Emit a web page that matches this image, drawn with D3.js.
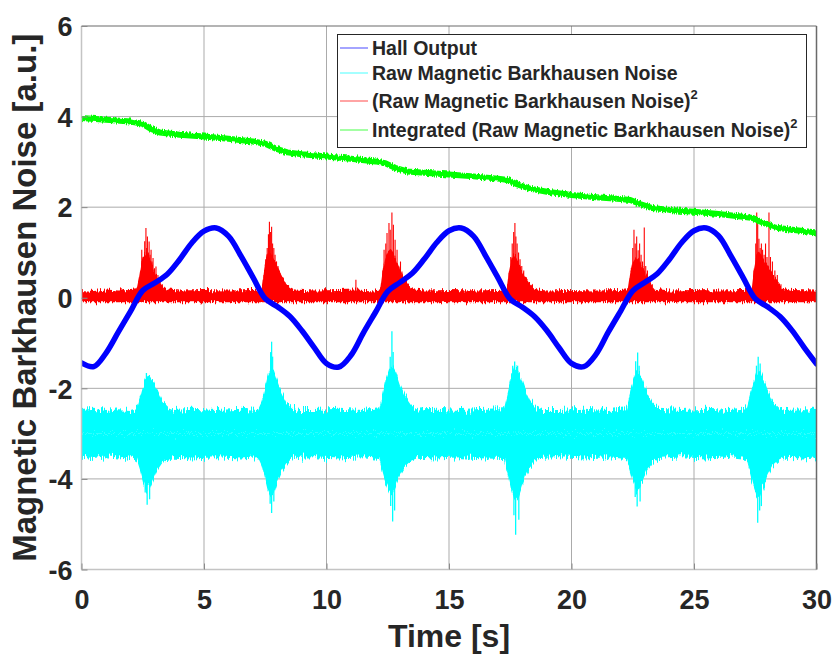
<!DOCTYPE html>
<html>
<head>
<meta charset="utf-8">
<script src="https://cdn.jsdelivr.net/npm/d3@7"></script>
<style>
  body { margin: 0; background: #fff; }
  text { font-family: "Liberation Sans", Arial, sans-serif; font-weight: bold; fill: #262626; }
</style>
</head>
<body>
<div id="chart"></div>
<script>
(function(d3) {
  'use strict';

  // ---- data ----
  var xTicks = [0, 5, 10, 15, 20, 25, 30];
  var yTicks = [-6, -4, -2, 0, 2, 4, 6];

  var seriesNames = ['Hall Output', 'Raw Magnetic Barkhausen Noise',
    '(Raw Magnetic Barkhausen Noise)', 'Integrated (Raw Magnetic Barkhausen Noise)'];
  var seriesColors = ['#0000ff', '#00ffff', '#ff0000', '#00ff00'];

  // Hall output, one value every 0.5 s from 0 to 30 s
  var hallStep = 0.5;
  var hall = [
    -1.44, -1.52, -1.22, -0.76, -0.30, 0.16, 0.33, 0.52, 0.84, 1.21,
     1.47,  1.54,  1.36,  0.93,  0.45, -0.02, -0.20, -0.41, -0.73, -1.10,
    -1.45, -1.53, -1.27, -0.78, -0.32, 0.14, 0.34, 0.54, 0.86, 1.22,
     1.48,  1.54,  1.36,  0.92,  0.44, -0.03, -0.21, -0.42, -0.73, -1.11,
    -1.45, -1.52, -1.25, -0.76, -0.30, 0.15, 0.34, 0.53, 0.85, 1.22,
     1.48,  1.54,  1.37,  0.93,  0.45, -0.02, -0.20, -0.41, -0.72, -1.10,
    -1.46
  ];

  // integrated squared noise (green), breakpoints
  var greenT = [0, 1, 2, 2.5, 2.8, 3.2, 4, 5, 6, 7, 7.5, 7.9, 8.4, 9, 10, 11, 12,
    12.4, 12.8, 13.3, 14, 15, 16, 17, 17.4, 17.8, 18.3, 19, 20, 21, 22,
    22.4, 22.8, 23.3, 24, 25, 26, 27, 27.4, 27.8, 28.3, 29, 30];
  var greenV = [3.97, 3.93, 3.89, 3.84, 3.74, 3.65, 3.60, 3.56, 3.51, 3.45, 3.40, 3.30, 3.21, 3.17, 3.12, 3.07, 3.01,
    2.97, 2.87, 2.79, 2.76, 2.72, 2.68, 2.63, 2.60, 2.50, 2.41, 2.34, 2.27, 2.22, 2.18,
    2.16, 2.07, 1.98, 1.94, 1.90, 1.85, 1.79, 1.76, 1.66, 1.55, 1.50, 1.44];

  // squared noise (red): dense band top edge, floor, tall spikes
  var redFloor = -0.1;
  var redTop = [
    [0, 0.17], [0.5, 0.15], [1, 0.18], [1.5, 0.16], [2, 0.17], [2.25, 0.19],
    [2.35, 0.45], [2.45, 0.8], [2.55, 0.95], [2.65, 1.0], [2.75, 0.92], [2.85, 0.8], [2.95, 0.62], [3.1, 0.45], [3.25, 0.32], [3.4, 0.23], [3.55, 0.18],
    [4, 0.16], [5, 0.17], [6, 0.16], [7, 0.17], [7.35, 0.19],
    [7.45, 0.6], [7.55, 0.95], [7.65, 1.05], [7.75, 0.98], [7.9, 0.82], [8.05, 0.62], [8.2, 0.46], [8.35, 0.33], [8.5, 0.24], [8.7, 0.18],
    [9.5, 0.16], [10.5, 0.17], [11.2, 0.18], [12, 0.16], [12.2, 0.19],
    [12.3, 0.6], [12.4, 0.9], [12.5, 1.02], [12.62, 1.08], [12.75, 0.98], [12.88, 0.8], [13.0, 0.62], [13.15, 0.45], [13.3, 0.32], [13.45, 0.22], [13.6, 0.18],
    [14, 0.16], [15, 0.17], [16, 0.16], [17, 0.17], [17.35, 0.19],
    [17.45, 0.6], [17.55, 0.88], [17.65, 0.95], [17.75, 0.88], [17.88, 0.72], [18.0, 0.58], [18.15, 0.43], [18.3, 0.3], [18.45, 0.21], [18.6, 0.18],
    [19, 0.16], [20, 0.17], [21, 0.16], [22, 0.17], [22.3, 0.19],
    [22.4, 0.55], [22.5, 0.8], [22.62, 0.9], [22.75, 0.82], [22.88, 0.68], [23.0, 0.55], [23.12, 0.42], [23.25, 0.3], [23.4, 0.2],
    [24, 0.16], [25, 0.17], [26, 0.16], [27, 0.17], [27.35, 0.19],
    [27.45, 0.65], [27.55, 0.95], [27.65, 1.02], [27.78, 0.92], [27.9, 0.8], [28.02, 0.7], [28.15, 0.58], [28.3, 0.44], [28.45, 0.32], [28.6, 0.22],
    [29, 0.17], [30, 0.16]
  ];
  var redSpikes = [
    [2.42, 0.6], [2.46, 1.06], [2.52, 0.9], [2.58, 1.25], [2.63, 1.54], [2.66, 1.1], [2.69, 1.35], [2.73, 1.0], [2.76, 1.24],
    [2.8, 0.95], [2.84, 1.06], [2.88, 0.8], [2.92, 0.88], [2.98, 0.65], [3.04, 0.69], [3.12, 0.5], [3.2, 0.4], [3.3, 0.3],
    [7.45, 0.5], [7.52, 0.85], [7.58, 1.1], [7.63, 1.4], [7.67, 1.68], [7.71, 1.45], [7.76, 1.57], [7.8, 1.2], [7.85, 1.1],
    [7.9, 0.95], [7.96, 0.8], [8.02, 0.7], [8.1, 0.55], [8.2, 0.45], [8.3, 0.35], [8.45, 0.28],
    [12.3, 0.6], [12.35, 1.06], [12.42, 1.2], [12.47, 1.43], [12.55, 1.65], [12.6, 1.5], [12.67, 1.88], [12.73, 1.61],
    [12.8, 1.28], [12.88, 1.06], [12.96, 0.69], [13.02, 0.8], [13.08, 0.58], [13.2, 0.4], [13.33, 0.25], [11.2, 0.4],
    [17.45, 0.55], [17.52, 0.9], [17.58, 1.2], [17.64, 1.45], [17.69, 1.65], [17.73, 1.35], [17.78, 1.2], [17.84, 1.0],
    [17.9, 0.85], [17.97, 0.7], [18.05, 0.6], [18.15, 0.45], [18.28, 0.35], [18.4, 0.25],
    [22.42, 0.5], [22.5, 1.1], [22.55, 1.5], [22.6, 1.2], [22.66, 1.35], [22.72, 1.05], [22.78, 1.2], [22.84, 0.95],
    [22.9, 0.8], [22.97, 1.55], [23.03, 0.7], [23.1, 0.6], [23.2, 0.45], [23.3, 0.3],
    [27.45, 0.6], [27.52, 1.2], [27.56, 1.88], [27.6, 1.65], [27.65, 1.3], [27.7, 1.1], [27.75, 1.2], [27.8, 1.06],
    [27.86, 0.95], [27.92, 1.2], [27.98, 0.9], [28.06, 1.88], [28.12, 0.9], [28.2, 0.8], [28.3, 0.6], [28.4, 0.5], [28.55, 0.3]
  ];

  // raw noise (cyan): band centre, top / bottom edges, tall hairs
  var cyanMid = -3.0;
  var cyanTop = [
    [0, -2.48], [0.5, -2.45], [1, -2.5], [1.5, -2.46], [2, -2.48], [2.25, -2.44],
    [2.4, -2.15], [2.52, -1.9], [2.65, -1.74], [2.8, -1.72], [2.95, -1.85], [3.1, -2.05], [3.3, -2.28], [3.55, -2.42], [3.8, -2.48],
    [4.5, -2.45], [5.5, -2.48], [6.5, -2.45], [7.2, -2.48], [7.35, -2.3],
    [7.48, -2.0], [7.6, -1.7], [7.72, -1.55], [7.85, -1.62], [8.0, -1.85], [8.15, -2.08], [8.35, -2.3], [8.6, -2.43], [8.9, -2.48],
    [9.5, -2.48], [10.5, -2.45], [11.5, -2.48], [12.15, -2.44],
    [12.3, -2.1], [12.42, -1.8], [12.55, -1.58], [12.7, -1.5], [12.85, -1.65], [13.0, -1.9], [13.2, -2.15], [13.45, -2.35], [13.75, -2.47],
    [14.5, -2.45], [15.5, -2.48], [16.5, -2.45], [17.25, -2.44],
    [17.4, -2.1], [17.52, -1.8], [17.65, -1.6], [17.8, -1.58], [17.95, -1.78], [18.1, -2.02], [18.3, -2.25], [18.55, -2.42], [18.8, -2.48],
    [19.5, -2.48], [20.5, -2.45], [21.5, -2.48], [22.25, -2.44],
    [22.4, -2.1], [22.52, -1.82], [22.65, -1.64], [22.8, -1.68], [22.95, -1.9], [23.1, -2.12], [23.3, -2.32], [23.55, -2.45],
    [24.5, -2.48], [25.5, -2.45], [26.5, -2.48], [27.15, -2.44],
    [27.3, -2.12], [27.42, -1.85], [27.55, -1.64], [27.7, -1.62], [27.85, -1.82], [28.0, -2.05], [28.2, -2.28], [28.45, -2.42], [28.7, -2.48],
    [29.5, -2.46], [30, -2.48]
  ];
  var cyanBottom = [
    [0, -3.53], [0.5, -3.56], [1, -3.52], [1.5, -3.55], [2, -3.52], [2.25, -3.56],
    [2.4, -3.82], [2.52, -4.08], [2.65, -4.24], [2.78, -4.2], [2.92, -4.02], [3.08, -3.82], [3.28, -3.66], [3.5, -3.58], [3.8, -3.53],
    [4.5, -3.55], [5.5, -3.52], [6.5, -3.55], [7.2, -3.52], [7.35, -3.7],
    [7.48, -3.98], [7.6, -4.25], [7.72, -4.38], [7.85, -4.3], [8.0, -4.05], [8.15, -3.85], [8.35, -3.68], [8.6, -3.57], [8.9, -3.53],
    [9.5, -3.52], [10.5, -3.55], [11.5, -3.52], [12.15, -3.56],
    [12.3, -3.88], [12.42, -4.12], [12.55, -4.28], [12.7, -4.3], [12.85, -4.12], [13.0, -3.92], [13.2, -3.72], [13.45, -3.6], [13.75, -3.53],
    [14.5, -3.55], [15.5, -3.52], [16.5, -3.55], [17.25, -3.56],
    [17.4, -3.9], [17.52, -4.2], [17.65, -4.45], [17.8, -4.5], [17.95, -4.25], [18.1, -3.98], [18.3, -3.75], [18.55, -3.6], [18.8, -3.53],
    [19.5, -3.52], [20.5, -3.55], [21.5, -3.52], [22.25, -3.56],
    [22.4, -3.85], [22.52, -4.08], [22.65, -4.24], [22.8, -4.18], [22.95, -3.98], [23.1, -3.8], [23.3, -3.66], [23.55, -3.56],
    [24.5, -3.52], [25.5, -3.55], [26.5, -3.52], [27.15, -3.56],
    [27.3, -3.88], [27.42, -4.15], [27.55, -4.36], [27.7, -4.38], [27.85, -4.15], [28.0, -3.92], [28.2, -3.72], [28.45, -3.6], [28.7, -3.53],
    [29.5, -3.55], [30, -3.52]
  ];
  var cyanSpikes = [
    [2.65, -1.66], [2.75, -1.72], [2.8, -1.9], [2.68, -4.57], [2.78, -4.45], [2.6, -4.3],
    [7.72, -1.2], [7.76, -0.97], [7.8, -1.3], [7.7, -4.55], [7.76, -4.75], [7.85, -4.5],
    [12.6, -1.3], [12.67, -0.74], [12.72, -1.2], [12.62, -4.6], [12.7, -4.94], [12.78, -4.7],
    [17.6, -1.5], [17.68, -1.41], [17.8, -1.5], [17.72, -5.23], [17.65, -4.8], [17.85, -4.9],
    [22.62, -1.4], [22.7, -1.21], [22.76, -1.5], [22.68, -4.61], [22.6, -4.4], [22.8, -4.5],
    [27.55, -1.5], [27.62, -1.3], [27.7, -1.45], [27.6, -4.97], [27.68, -4.7], [27.75, -4.6]
  ];

  // ---- layout ----
  var width = 834, height = 655;
  var left = 81.5, right = 816.5, top = 26, bottom = 569.5;

  var x = d3.scaleLinear().domain([0, 30]).range([left, right]);
  var y = d3.scaleLinear().domain([-6, 6]).range([bottom, top]);

  var svg = d3.select('#chart').append('svg')
    .attr('width', width)
    .attr('height', height);

  var defs = svg.append('defs');
  defs.append('clipPath').attr('id', 'plotclip')
    .append('rect')
    .attr('x', left).attr('y', top)
    .attr('width', right - left).attr('height', bottom - top);

  // roughen edges so the bands look like dense noisy traces
  function roughFilter(id, freq, scale) {
    var f = defs.append('filter').attr('id', id)
      .attr('x', '-2%').attr('y', '-40%').attr('width', '104%').attr('height', '180%');
    f.append('feTurbulence').attr('type', 'fractalNoise')
      .attr('baseFrequency', freq).attr('numOctaves', 2).attr('seed', 7).attr('result', 'n');
    var ct = f.append('feComponentTransfer').attr('in', 'n').attr('result', 'n2');
    ct.append('feFuncR').attr('type', 'linear').attr('slope', 0).attr('intercept', 0.5);
    ct.append('feFuncA').attr('type', 'linear').attr('slope', 0).attr('intercept', 1);
    f.append('feDisplacementMap').attr('in', 'SourceGraphic').attr('in2', 'n2')
      .attr('scale', scale).attr('xChannelSelector', 'R').attr('yChannelSelector', 'G');
  }
  roughFilter('roughCyan', '0.9 0.03', 16);
  roughFilter('roughRed', '0.9 0.04', 9);
  roughFilter('roughLine', '0.8 0.08', 5);

  // grid
  var grid = svg.append('g').attr('class', 'grid');
  grid.selectAll('.vgrid').data(xTicks.slice(1, -1)).enter().append('line')
    .attr('x1', function(d) { return x(d); }).attr('x2', function(d) { return x(d); })
    .attr('y1', top).attr('y2', bottom)
    .style('stroke', '#ababab').style('stroke-width', 1);
  grid.selectAll('.hgrid').data(yTicks.slice(1, -1)).enter().append('line')
    .attr('y1', function(d) { return y(d); }).attr('y2', function(d) { return y(d); })
    .attr('x1', left).attr('x2', right)
    .style('stroke', '#ababab').style('stroke-width', 1);

  var plot = svg.append('g').attr('clip-path', 'url(#plotclip)');

  // cyan raw noise
  var cyanG = plot.append('g').attr('filter', 'url(#roughCyan)');
  var cyanArea = d3.area()
    .x(function(d) { return x(d[0]); })
    .y0(y(cyanMid))
    .y1(function(d) { return y(d[1]); });
  cyanG.append('path').attr('d', cyanArea(cyanTop)).style('fill', seriesColors[1]);
  cyanG.append('path').attr('d', cyanArea(cyanBottom)).style('fill', seriesColors[1]);
  plot.selectAll('.cspike').data(cyanSpikes).enter().append('line')
    .attr('x1', function(d) { return x(d[0]); }).attr('x2', function(d) { return x(d[0]); })
    .attr('y1', y(cyanMid)).attr('y2', function(d) { return y(d[1]); })
    .style('stroke', seriesColors[1]).style('stroke-width', 1.3);

  // red squared noise
  var redG = plot.append('g').attr('filter', 'url(#roughRed)');
  var redArea = d3.area()
    .x(function(d) { return x(d[0]); })
    .y0(y(redFloor))
    .y1(function(d) { return y(d[1]); });
  redG.append('path').attr('d', redArea(redTop)).style('fill', seriesColors[2]);
  plot.selectAll('.rspike').data(redSpikes).enter().append('line')
    .attr('x1', function(d) { return x(d[0]); }).attr('x2', function(d) { return x(d[0]); })
    .attr('y1', y(0.1)).attr('y2', function(d) { return y(d[1]); })
    .style('stroke', seriesColors[2]).style('stroke-width', 1.1);

  // green integrated
  var greenLine = d3.line()
    .x(function(d, i) { return x(greenT[i]); })
    .y(function(d) { return y(d); });
  plot.append('path').attr('d', greenLine(greenV))
    .attr('filter', 'url(#roughLine)')
    .style('fill', 'none').style('stroke', seriesColors[3]).style('stroke-width', 6)
    .style('stroke-linejoin', 'round');

  // blue hall output
  var hallLine = d3.line()
    .x(function(d, i) { return x(i * hallStep); })
    .y(function(d) { return y(d); })
    .curve(d3.curveCatmullRom);
  plot.append('path').attr('d', hallLine(hall))
    .style('fill', 'none').style('stroke', seriesColors[0]).style('stroke-width', 5.5)
    .style('stroke-linecap', 'round');

  // axes box
  svg.append('line').attr('x1', left).attr('x2', right).attr('y1', bottom).attr('y2', bottom)
    .style('stroke', '#c4c4c4').style('stroke-width', 1.5);
  svg.append('line').attr('x1', left).attr('x2', left).attr('y1', top).attr('y2', bottom)
    .style('stroke', '#c4c4c4').style('stroke-width', 1.5);
  svg.append('line').attr('x1', left).attr('x2', right).attr('y1', top).attr('y2', top)
    .style('stroke', '#6a6a6a').style('stroke-width', 1.2);
  svg.append('line').attr('x1', right).attr('x2', right).attr('y1', top).attr('y2', bottom)
    .style('stroke', '#6a6a6a').style('stroke-width', 1.5);

  var xAxis = svg.append('g')
    .attr('transform', 'translate(0,' + bottom + ')')
    .call(d3.axisBottom(x).tickValues(xTicks).tickSize(-6).tickPadding(20)
      .tickFormat(function(d) { return String(d); }));
  var yAxis = svg.append('g')
    .attr('transform', 'translate(' + left + ',0)')
    .call(d3.axisLeft(y).tickValues(yTicks).tickSize(-6).tickPadding(9)
      .tickFormat(function(d) { return String(d); }));
  [xAxis, yAxis].forEach(function(a) {
    a.select('.domain').remove();
    a.selectAll('.tick line').style('stroke', '#8a8a8a');
    a.selectAll('.tick text')
      .style('font-family', '"Liberation Sans", Arial, sans-serif')
      .style('font-weight', 'bold')
      .style('font-size', '27px')
      .style('fill', '#262626');
  });
  yAxis.selectAll('.tick text').attr('dy', '0.36em');

  // axis titles
  svg.append('text')
    .attr('x', (left + right) / 2).attr('y', 647)
    .attr('text-anchor', 'middle')
    .style('font-size', '32px')
    .text('Time [s]');
  svg.append('text')
    .attr('transform', 'translate(36,' + ((top + bottom) / 2) + ') rotate(-90)')
    .attr('text-anchor', 'middle')
    .style('font-size', '33px')
    .text('Magnetic Barkhausen Noise [a.u.]');

  // legend
  var legendRows = [48, 73, 101, 130];
  var legend = svg.append('g');
  legend.append('rect')
    .attr('x', 337.5).attr('y', 34.5).attr('width', 469).attr('height', 113)
    .style('fill', '#fff').style('stroke', '#262626').style('stroke-width', 1);
  seriesNames.forEach(function(name, i) {
    var ly = legendRows[i];
    legend.append('line')
      .attr('x1', 340).attr('x2', 368).attr('y1', ly).attr('y2', ly)
      .style('stroke', seriesColors[i]).style('stroke-width', 1.2).style('opacity', 0.6);
    var t = legend.append('text')
      .attr('x', 372).attr('y', ly + 7)
      .style('font-size', '19.5px')
      .text(name);
    if (i >= 2) {
      t.append('tspan').attr('dy', -9).style('font-size', '13px').text('2');
    }
  });

})(window.d3);
</script>
</body>
</html>
